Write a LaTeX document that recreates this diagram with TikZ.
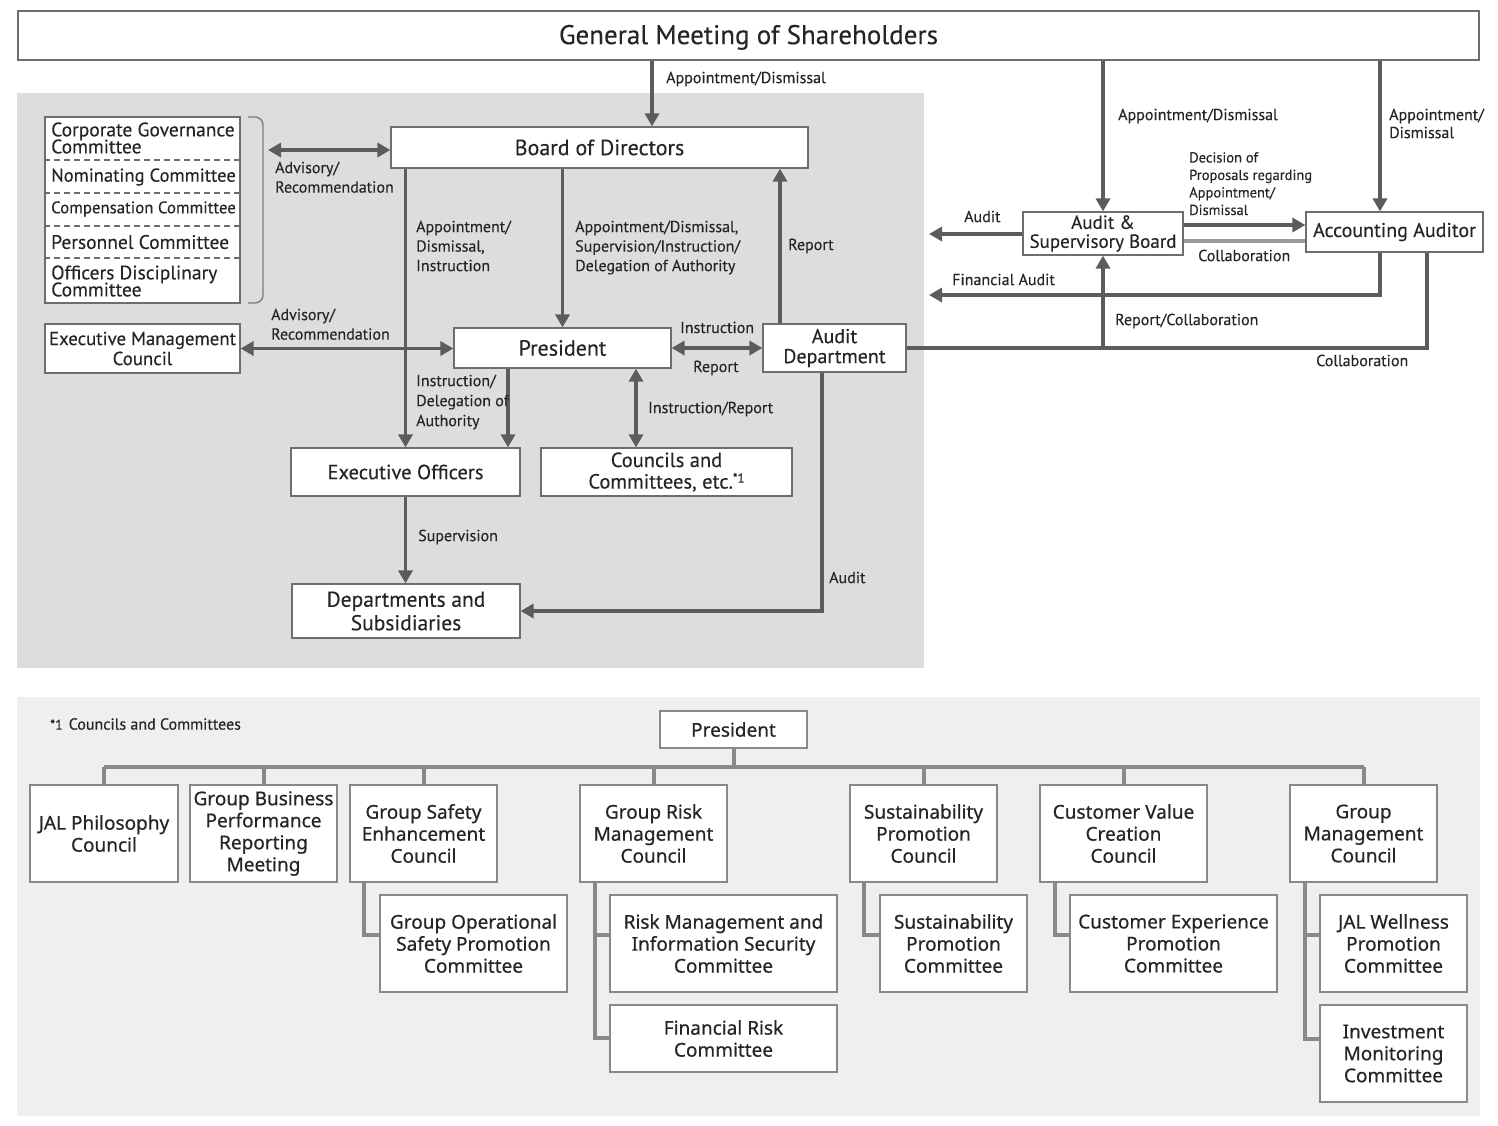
\documentclass[tikz,border=0pt]{standalone}
\usepackage{fontspec}
\setmainfont[FakeBold=0.25]{PT Sans}
\newfontfamily\bfont[FakeBold=0.6]{Noto Sans}
\usetikzlibrary{arrows.meta,calc}
\definecolor{arr}{HTML}{5C5C5C}
\definecolor{bord}{HTML}{6E6E6E}
\definecolor{panelA}{HTML}{DCDDDD}
\definecolor{panelB}{HTML}{EEEFEF}
\definecolor{conn}{HTML}{898989}
\definecolor{collab}{HTML}{9A9A9A}
\definecolor{txt}{HTML}{252525}
\begin{document}
\begin{tikzpicture}[x=1pt,y=-1pt,
  box/.style={draw=bord, line width=1.2pt, fill=white, inner sep=0pt, align=center, text=txt,
    font=\fontsize{20.5}{21}\selectfont},
  bbox/.style={draw=conn, line width=2.4pt, fill=white, inner sep=0pt, align=center, text=txt,
    font=\bfont\fontsize{19}{22}\selectfont},
  lbl/.style={anchor=north west, inner sep=0pt, align=left, text=txt, font=\fontsize{16}{19.5}\selectfont},
  rowtxt/.style={anchor=west, inner sep=0pt, align=left, text=txt, font=\fontsize{19.5}{18}\selectfont},
  ar/.style={draw=arr, line width=3.6pt},
  tipb/.style={-{Triangle[length=13pt,width=14pt]}},
  tipbb/.style={{Triangle[length=13pt,width=14pt]}-{Triangle[length=13pt,width=14pt]}},
  cn/.style={draw=conn, line width=4pt},
]
\useasboundingbox (0,0) rectangle (1498,1125);
\fill[white] (0,0) rectangle (1498,1125);

% panels
\fill[panelA] (17,93) rectangle (924,668);
\fill[panelB] (17,697) rectangle (1480,1116);

% ---------- top part ----------
\node[box, minimum width=1461pt, minimum height=49pt, text depth=2pt, font=\fontsize{27}{28}\selectfont] (gms) at (748.5,35.5) {General Meeting of Shareholders};

\node[box, minimum width=417pt, minimum height=41pt, font=\fontsize{22}{22}\selectfont] (bod) at (599.5,147.5) {Board of Directors};
\node[box, minimum width=217pt, minimum height=40pt, font=\fontsize{22}{22}\selectfont] (pres) at (562.5,348) {President};
\node[box, minimum width=143pt, minimum height=48pt, font=\fontsize{20}{20}\selectfont] (ad) at (834.5,348) {Audit\\Department};
\node[box, minimum width=195pt, minimum height=49pt, font=\fontsize{18.8}{20}\selectfont] (emc) at (142.5,348.5) {Executive Management\\Council};
\node[box, minimum width=229pt, minimum height=48pt] (eo) at (405.5,472) {Executive Officers};
\node[box, minimum width=251pt, minimum height=48pt, font=\fontsize{20.5}{21.5}\selectfont] (cc) at (666.5,472) {Councils and\\Committees, etc.\raisebox{6pt}{\fontsize{13}{13}\selectfont *1}};
\node[box, minimum width=228pt, minimum height=54pt, font=\fontsize{21.5}{23.5}\selectfont] (dep) at (406,611) {Departments and\\Subsidiaries};
\node[box, minimum width=160pt, minimum height=43pt, font=\fontsize{19}{19}\selectfont] (asb) at (1103,233.5) {Audit \&\\Supervisory Board};
\node[box, minimum width=177pt, minimum height=40pt, font=\fontsize{20}{21}\selectfont] (aa) at (1394.5,232) {Accounting Auditor};

% committee stack
\node[box, minimum width=195pt, minimum height=186pt] (comm) at (142.5,210) {};
\foreach \yy in {160,193,226,258}
  \draw[bord, line width=1.2pt, dash pattern=on 6pt off 4pt] (comm.west |- 0,\yy) -- (comm.east |- 0,\yy);
\node[rowtxt] (r1) at (51,138) {Corporate Governance\\[-1pt]Committee};
\node[rowtxt, font=\fontsize{18.6}{18}\selectfont] (r2) at (51,177) {Nominating Committee};
\node[rowtxt, font=\fontsize{16.8}{17}\selectfont] (r3) at (51,209) {Compensation Committee};
\node[rowtxt] (r4) at (51,242) {Personnel Committee};
\node[rowtxt] (r5) at (51,281) {Officers Disciplinary\\[-1pt]Committee};
% bracket
\draw[arr!80, line width=1.4pt, rounded corners=8pt] (248,117) -- (263,117) -- (263,303) -- (248,303);

% coordinates for connectors
\coordinate (cA) at (268,150);
\coordinate (x508) at (508,0);
\coordinate (x636) at (636,0);
\coordinate (x780) at (780,0);
\coordinate (x822) at (822,0);
\coordinate (x652) at (652,0);
\coordinate (x1380) at (1380,0);
\coordinate (x1427) at (1427,0);
\coordinate (y225) at (0,225);
\coordinate (y241) at (0,241);
\coordinate (eA) at (929,234);
\coordinate (eF) at (929,295);

% connectors
\draw[ar,tipb] (gms.south -| x652) -- (bod.north -| x652);
\draw[ar,tipbb] (cA) -- (bod.west |- cA);
\draw[ar,tipb] (eo.north |- bod.south) -- (eo.north);
\draw[ar,tipb] (pres.north |- bod.south) -- (pres.north);
\draw[ar,tipb] (ad.north -| x780) -- (bod.south -| x780);
\draw[ar,tipbb] (emc.east) -- (pres.west |- emc.east);
\draw[ar,tipbb] (pres.east) -- (ad.west);
\draw[ar,tipb] (pres.south -| x508) -- (eo.north -| x508);
\draw[ar,tipbb] (pres.south -| x636) -- (cc.north -| x636);
\draw[ar,tipb] (eo.south) -- (dep.north -| eo.south);
\draw[ar,tipb] (ad.south -| x822) |- (dep.east);

\draw[ar,tipb] (gms.south -| asb.north) -- (asb.north);
\draw[ar,tipb] (gms.south -| x1380) -- (aa.north -| x1380);
\draw[ar,tipb] (asb.east |- y225) -- (aa.west |- y225);
\draw[collab, line width=4pt] (asb.east |- y241) -- (aa.west |- y241);
\draw[ar,tipb] (asb.west |- eA) -- (eA);
\draw[ar,tipb] (aa.south -| x1380) |- (eF);
\draw[ar] (ad.east) -| (aa.south -| x1427);
\draw[ar,tipb] (asb.south |- ad.east) -- (asb.south);

% labels
\node[lbl] (l1) at (666,71.5) {Appointment/Dismissal};
\node[lbl] (l2) at (275,161.5) {Advisory/\\Recommendation};
\node[lbl] (l3) at (271,308.5) {Advisory/\\Recommendation};
\node[lbl] (l4) at (416,220.5) {Appointment/\\Dismissal,\\Instruction};
\node[lbl] (l5) at (575,220.5) {Appointment/Dismissal,\\Supervision/Instruction/\\Delegation of Authority};
\node[lbl] (l6) at (788,238.5) {Report};
\node[lbl] (l7) at (680,321.5) {Instruction};
\node[lbl] (l8) at (693,360.5) {Report};
\node[lbl, font=\fontsize{16}{20}\selectfont] (l9) at (416,374.5) {Instruction/\\Delegation of\\Authority};
\node[lbl] (l10) at (648,401.5) {Instruction/Report};
\node[lbl] (l11) at (418,529.5) {Supervision};
\node[lbl] (l12) at (829,571.5) {Audit};
\node[lbl] (l13) at (964,210.5) {Audit};
\node[lbl] (l14) at (1118,108.5) {Appointment/Dismissal};
\node[lbl, font=\fontsize{16}{18}\selectfont] (l15) at (1389,108.5) {Appointment/\\Dismissal};
\node[lbl, font=\fontsize{14.5}{17.5}\selectfont] (l16) at (1189,152) {Decision of\\Proposals regarding\\Appointment/\\Dismissal};
\node[lbl] (l17) at (1198,249.5) {Collaboration};
\node[lbl] (l18) at (952,273.5) {Financial Audit};
\node[lbl] (l19) at (1115,313.5) {Report/Collaboration};
\node[lbl] (l20) at (1316,354.5) {Collaboration};

% ---------- bottom part ----------
\node[anchor=west, inner sep=0pt, text=txt, font=\fontsize{16}{17}\selectfont] (note) at (50,724) {{\fontsize{14}{14}\selectfont *1}\hspace{6pt}Councils and Committees};

\node[bbox, minimum width=147pt, minimum height=37pt] (bp) at (733.5,729.5) {President};

\node[bbox, minimum width=148pt, minimum height=97pt] (b1) at (104,833.5) {JAL Philosophy\\Council};
\node[bbox, minimum width=147pt, minimum height=97pt] (b2) at (263.5,833.5) {Group Business\\Performance\\Reporting\\Meeting};
\node[bbox, minimum width=147pt, minimum height=97pt] (b3) at (423.5,833.5) {Group Safety\\Enhancement\\Council};
\node[bbox, minimum width=147pt, minimum height=97pt] (b4) at (653.5,833.5) {Group Risk\\Management\\Council};
\node[bbox, minimum width=147pt, minimum height=97pt] (b5) at (923.5,833.5) {Sustainability\\Promotion\\Council};
\node[bbox, minimum width=167pt, minimum height=97pt] (b6) at (1123.5,833.5) {Customer Value\\Creation\\Council};
\node[bbox, minimum width=147pt, minimum height=97pt] (b7) at (1363.5,833.5) {Group\\Management\\Council};

\node[bbox, minimum width=187pt, minimum height=97pt] (s3) at (473.5,943.5) {Group Operational\\Safety Promotion\\Committee};
\node[bbox, minimum width=227pt, minimum height=97pt] (s4a) at (723.5,943.5) {Risk Management and\\Information Security\\Committee};
\node[bbox, minimum width=227pt, minimum height=67pt] (s4b) at (723.5,1038.5) {Financial Risk\\Committee};
\node[bbox, minimum width=147pt, minimum height=97pt] (s5) at (953.5,943.5) {Sustainability\\Promotion\\Committee};
\node[bbox, minimum width=207pt, minimum height=97pt] (s6) at (1173.5,943.5) {Customer Experience\\Promotion\\Committee};
\node[bbox, minimum width=147pt, minimum height=97pt] (s7a) at (1393.5,943.5) {JAL Wellness\\Promotion\\Committee};
\node[bbox, minimum width=147pt, minimum height=97pt] (s7b) at (1393.5,1053.5) {Investment\\Monitoring\\Committee};

% tree connectors
\coordinate (bus) at (0,767);
\draw[cn] (bp.south) -- (bp.south |- bus);
\draw[cn] (b1.north |- bus) -- (b7.north |- bus);
\foreach \b in {b1,b2,b3,b4,b5,b6,b7}
  \draw[cn] (\b.north |- bus) -- (\b.north);

\coordinate (x364) at (364,0);
\coordinate (x595) at (595,0);
\coordinate (x864) at (864,0);
\coordinate (x1055) at (1055,0);
\coordinate (x1305) at (1305,0);
\draw[cn] (b3.south -| x364) |- ([yshift=-41pt]s3.north west);
\draw[cn] (b4.south -| x595) |- ([yshift=-34pt]s4b.north west);
\draw[cn] (x595 |- s4a.north west) ++(0,41) coordinate (j4) (j4) -- ([yshift=-41pt]s4a.north west);
\draw[cn] (b5.south -| x864) |- ([yshift=-41pt]s5.north west);
\draw[cn] (b6.south -| x1055) |- ([yshift=-41pt]s6.north west);
\draw[cn] (b7.south -| x1305) |- ([yshift=-35pt]s7b.north west);
\draw[cn] (x1305 |- s7a.north west) ++(0,41) coordinate (j7) (j7) -- ([yshift=-41pt]s7a.north west);
\end{tikzpicture}
\end{document}
